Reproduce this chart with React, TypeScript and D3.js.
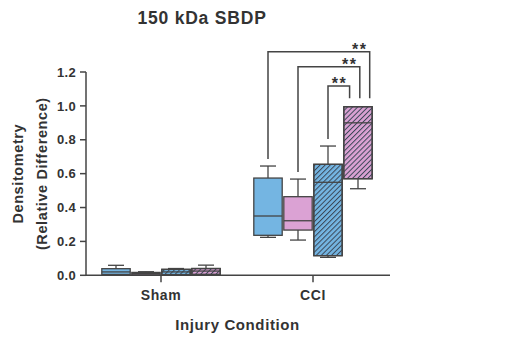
import React from 'react';
import * as d3 from 'd3';

// groups on the x axis and the four boxes inside each
const conditions = ['Sham', 'CCI'];
const series = ['blueSolid', 'pinkSolid', 'blueHatch', 'pinkHatch'];
const seriesColor = ['#74b5e2', '#dba2d4', '#74b5e2', '#dba2d4'];
const seriesHatch = [false, false, true, true];

// [min, q1, median, q3, max] per series, per condition
const shamStats = [
  [0.0, 0.005, 0.02, 0.039, 0.059],
  [0.0, 0.003, 0.01, 0.017, 0.021],
  [0.0, 0.004, 0.02, 0.035, 0.04],
  [0.0, 0.005, 0.025, 0.04, 0.06],
];
const cciStats = [
  [0.224, 0.236, 0.35, 0.574, 0.645],
  [0.208, 0.267, 0.322, 0.464, 0.568],
  [0.106, 0.116, 0.549, 0.655, 0.763],
  [0.511, 0.57, 0.9, 0.995, 0.995],
];
const yTicks = [0, 0.2, 0.4, 0.6, 0.8, 1.0, 1.2];

// significance brackets: from series a to series b in CCI
const brackets = [
  { a: 0, b: 3, label: '**', top: 43.7, leg: 0.89 },
  { a: 1, b: 3, label: '**', top: 58.7, leg: 0.56 },
  { a: 2, b: 3, label: '**', top: 78, leg: 0.22 },
];

const width = 492;
const height = 329;
const font = 'Arial, "Liberation Sans", sans-serif';
const ink = '#444';
const textInk = '#333';

const App = () => {
  const yScale = d3.scaleLinear().domain([0, 1.2]).range([267.3, 64]);
  const x = d3.scalePoint().domain(conditions).range([153, 305]);
  const inner = d3.scaleBand().domain(series).range([-60, 60]);
  const bw = inner.bandwidth();
  const axisX = 78;
  const y0 = yScale(0);

  const allStats = [shamStats, cciStats];
  const boxX = (ci: number, si: number) => (x(conditions[ci]) as number) + (inner(series[si]) as number);

  return (
    <svg width={width} height={height} style={{ display: 'block' }} fontFamily={font}>
      <defs>
        <pattern id="hatch" patternUnits="userSpaceOnUse" width="3.6" height="3.6" patternTransform="rotate(45)">
          <line x1="0.5" y1="0" x2="0.5" y2="3.6" stroke="#3a4656" strokeWidth="1" />
        </pattern>
      </defs>

      <text x={194} y={15.5} textAnchor="middle" fontSize={17.5} fontWeight="bold" letterSpacing={0.8} fill={textInk}>
        150 kDa SBDP
      </text>

      {/* y axis */}
      <line x1={axisX} x2={axisX} y1={yScale(1.2)} y2={y0} stroke={ink} strokeWidth={1.5} />
      {yTicks.map((t) => (
        <g key={t}>
          <line x1={axisX - 6} x2={axisX} y1={yScale(t)} y2={yScale(t)} stroke={ink} strokeWidth={1.5} />
          <text x={axisX - 10} y={yScale(t)} dy="0.36em" textAnchor="end" fontSize={13} fontWeight="bold" letterSpacing={0.3} fill={textInk}>
            {t.toFixed(1)}
          </text>
        </g>
      ))}
      <g transform={`translate(0, ${(yScale(1.2) + y0) / 2}) rotate(-90)`}>
        <text x={0} y={15} textAnchor="middle" fontSize={14.5} fontWeight="bold" letterSpacing={0.6} fill={textInk}>Densitometry</text>
        <text x={0} y={39} textAnchor="middle" fontSize={14.5} fontWeight="bold" letterSpacing={0.6} fill={textInk}>(Relative Difference)</text>
      </g>

      {/* x axis */}
      <line x1={axisX} x2={382} y1={y0} y2={y0} stroke={ink} strokeWidth={1.5} />
      {conditions.map((c) => (
        <g key={c}>
          <line x1={x(c)} x2={x(c)} y1={y0} y2={y0 + 7} stroke={ink} strokeWidth={1.5} />
          <text x={x(c)} y={y0 + 25} textAnchor="middle" fontSize={14} fontWeight="bold" letterSpacing={0.6} fill={textInk}>{c}</text>
        </g>
      ))}
      <text x={229.5} y={y0 + 55} textAnchor="middle" fontSize={15} fontWeight="bold" letterSpacing={0.6} fill={textInk}>Injury Condition</text>

      {/* boxes */}
      {allStats.map((stats, ci) =>
        stats.map((s, si) => {
          const bx = boxX(ci, si);
          const cx = bx + bw / 2;
          const [mn, q1, md, q3, mx] = s;
          const bh = Math.max(yScale(q1) - yScale(q3), 1);
          return (
            <g key={`${ci}-${si}`}>
              <line x1={cx} x2={cx} y1={yScale(mx)} y2={yScale(q3)} stroke={ink} strokeWidth={1.3} />
              <line x1={cx - 8} x2={cx + 8} y1={yScale(mx)} y2={yScale(mx)} stroke={ink} strokeWidth={1.3} />
              <line x1={cx} x2={cx} y1={yScale(q1)} y2={yScale(mn)} stroke={ink} strokeWidth={1.3} />
              <line x1={cx - 8} x2={cx + 8} y1={yScale(mn)} y2={yScale(mn)} stroke={ink} strokeWidth={1.3} />
              <rect x={bx + 0.8} y={yScale(q3)} width={bw - 1.6} height={bh} fill={seriesColor[si]} stroke={ink} strokeWidth={1.3} />
              {seriesHatch[si] && (
                <rect x={bx + 0.8} y={yScale(q3)} width={bw - 1.6} height={bh} fill="url(#hatch)" stroke={ink} strokeWidth={1.3} />
              )}
              <line x1={bx + 0.8} x2={bx + bw - 0.8} y1={yScale(md)} y2={yScale(md)} stroke={ink} strokeWidth={1.3} />
            </g>
          );
        })
      )}

      {/* significance brackets */}
      {brackets.map((b, i) => {
        const lx = boxX(1, b.a) + bw / 2;
        const rx = boxX(1, b.b) + bw * b.leg;
        const leftBottom = yScale(cciStats[b.a][4]) - 7;
        const rightBottom = yScale(1.045);
        return (
          <g key={i}>
            <path d={`M${lx},${leftBottom}V${b.top}H${rx}V${rightBottom}`} fill="none" stroke={ink} strokeWidth={1.5} />
            <text x={rx - 10} y={b.top + 3} textAnchor="middle" fontSize={16} fontWeight="bold" letterSpacing={1.5} fill={textInk}>{b.label}</text>
          </g>
        );
      })}
    </svg>
  );
};

export default App;
